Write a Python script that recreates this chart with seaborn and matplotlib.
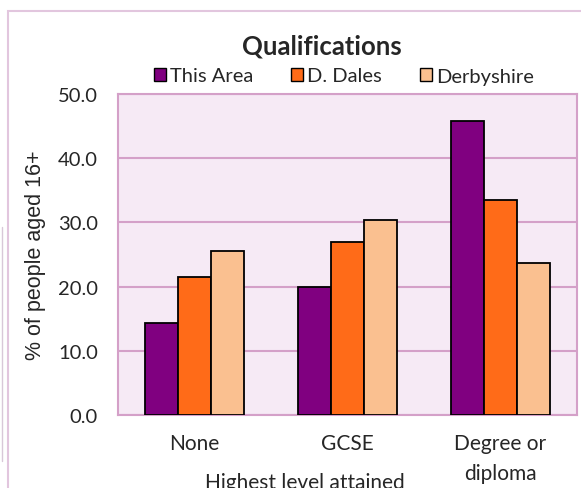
import pandas as pd
import matplotlib
matplotlib.use('Agg')
import matplotlib.pyplot as plt
from matplotlib.lines import Line2D
from matplotlib.patches import Rectangle
import seaborn as sns

# Data
categories = ['None', 'GCSE', 'Degree or\ndiploma']
areas = ['This Area', 'D. Dales', 'Derbyshire']
this_area = [14.3, 19.9, 45.8]
d_dales = [21.5, 26.9, 33.5]
derbyshire = [25.6, 30.4, 23.7]
colors = ['#800080', '#FF6B18', '#FAC090']

rows = []
for name, vals in zip(areas, [this_area, d_dales, derbyshire]):
    for cat, v in zip(categories, vals):
        rows.append({'cat': cat, 'area': name, 'value': v})
df = pd.DataFrame(rows)

sns.set_style('white')
plt.rcParams['font.family'] = ['Lato', 'DejaVu Sans']

pink = '#D4A0C8'
fig = plt.figure(figsize=(5.81, 4.89), dpi=100)
ax = fig.add_axes([118 / 581, 1 - 416 / 489, 459 / 581, 321 / 489])
ax.set_facecolor('#F6EAF5')

sns.barplot(data=df, x='cat', y='value', hue='area', order=categories,
            hue_order=areas, palette=colors, saturation=1, width=0.65, gap=0,
            edgecolor='black', linewidth=1.3, ax=ax, zorder=3)

ax.set_ylim(0, 50)
ax.set_xlim(-0.5, 2.5)
ax.set_yticks([0, 10, 20, 30, 40, 50])
ax.set_yticklabels([f'{v:.1f}' for v in [0, 10, 20, 30, 40, 50]], fontsize=14.5)
ax.yaxis.grid(True, color=pink, linewidth=1.5, zorder=0)
ax.set_axisbelow(True)

# category boundary ticks, labels centred between them
ax.set_xticks([-0.5, 0.5, 1.5, 2.5])
ax.set_xticklabels([])
ax.set_xticks([0, 1, 2], minor=True)
ax.set_xticklabels(categories, minor=True, fontsize=15, linespacing=1.65)
ax.tick_params(axis='x', which='minor', length=0, pad=13)
ax.tick_params(axis='x', which='major', length=4.5, width=1.5, color=pink, direction='out')
ax.tick_params(axis='y', length=4.5, width=1.5, color=pink, direction='out', pad=10)
for s in ax.spines.values():
    s.set_color(pink)
    s.set_linewidth(1.5)

ax.set_xlabel('')
fig.text(305 / 581, 1 - 473 / 489, 'Highest level attained', ha='center', va='top', fontsize=15)
ax.set_ylabel('% of people aged 16+', fontsize=15.5, family=['Liberation Sans', 'DejaVu Sans'])
ax.yaxis.set_label_coords(-72 / 459, 0.5)

ax.legend_.remove()
handles = [Rectangle((0, 0), 1, 1, facecolor=c, edgecolor='black', linewidth=1) for c in colors]
fig.legend(handles, areas, loc='center', bbox_to_anchor=(344 / 581, 1 - 77 / 489),
           ncol=3, frameon=False, fontsize=14.5, handlelength=0.6, handleheight=0.6,
           handletextpad=0.2, columnspacing=1.9, borderaxespad=0, borderpad=0)

fig.text(322 / 581, 1 - 47 / 489, 'Qualifications', ha='center', va='center',
         fontsize=18.5, fontweight='bold')

# outer chart frame
fig.add_artist(Rectangle((8 / 581, -0.1), 1.1, 1 - 12 / 489 + 0.1, transform=fig.transFigure,
                         fill=False, edgecolor='#E2C6DE', linewidth=1.5))
fig.add_artist(Line2D([2 / 581, 2 / 581], [1 - 462 / 489, 1 - 228 / 489],
                      transform=fig.transFigure, color='#D8C8D8', linewidth=1))

fig.savefig('out.png', dpi=100)
